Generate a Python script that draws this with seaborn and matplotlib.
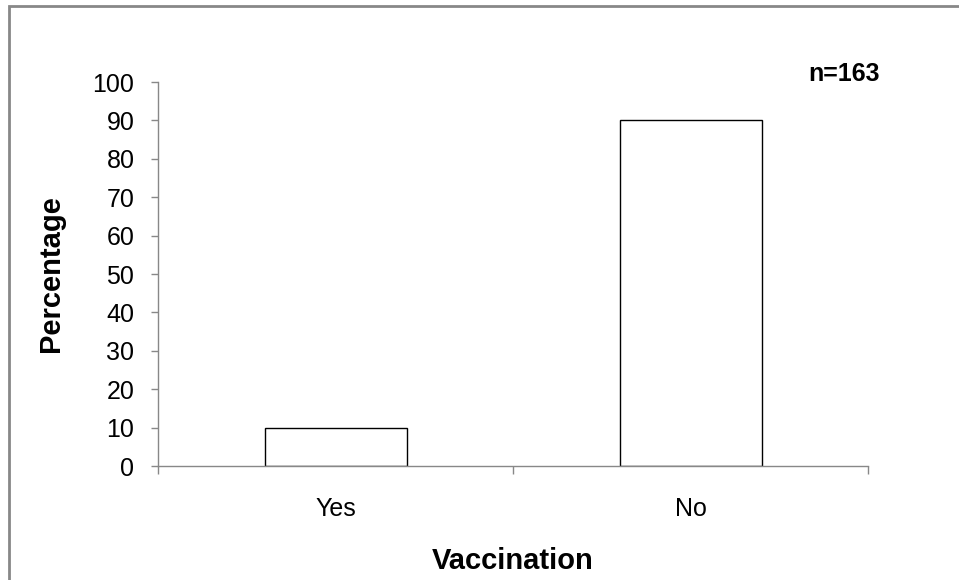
import pandas as pd
import numpy as np
import matplotlib.pyplot as plt
import seaborn as sns
from matplotlib.patches import Rectangle

# Values
categories = ["Yes", "No"]
percentages = [10, 90]
n_label = "n=163"

df = pd.DataFrame({"Vaccination": categories, "Percentage": percentages})

sns.set_style("white", {"xtick.bottom": True, "ytick.left": True,
                        "text.color": "black", "xtick.color": "black",
                        "ytick.color": "black", "axes.labelcolor": "black"})
plt.rcParams["font.family"] = ["Liberation Sans", "DejaVu Sans"]

fig = plt.figure(figsize=(9.59, 5.8), dpi=100)
ax = fig.add_axes([158 / 959, 1 - 466 / 580, 710 / 959, 384 / 580])

sns.barplot(data=df, x="Vaccination", y="Percentage", ax=ax, width=0.4,
            color="white", edgecolor="black", linewidth=1.0)

ax.set_xlim(-0.5, 1.5)
ax.set_ylim(0, 100)
ax.set_yticks(np.arange(0, 101, 10))

# category boundary ticks like the original spreadsheet chart
ax.set_xticks([-0.5, 0.5, 1.5], minor=True)
ax.tick_params(axis="x", which="major", bottom=False, length=0, labelsize=18,
               labelcolor="black", pad=22)
ax.tick_params(axis="x", which="minor", bottom=True, length=5.5, width=1,
               color="#888888", direction="out")
ax.tick_params(axis="y", left=True, length=5, width=1, color="#888888",
               direction="out", labelsize=18, labelcolor="black", pad=12)

for side in ["top", "right"]:
    ax.spines[side].set_visible(False)
for side in ["left", "bottom"]:
    ax.spines[side].set_color("#888888")
    ax.spines[side].set_linewidth(1)

ax.set_xlabel("Vaccination", fontsize=21, fontweight="bold", labelpad=19, color="black")
ax.set_ylabel("Percentage", fontsize=21, fontweight="bold", labelpad=20, color="black")

fig.text(844 / 959, 1 - 74 / 580, n_label, fontsize=18, fontweight="bold",
         ha="center", va="center", color="black")

# outer chart border
fig.patches.append(Rectangle((9 / 959, -0.05), 1.0, 1 - 6 / 580 + 0.05,
                             transform=fig.transFigure, fill=False,
                             edgecolor="#888888", linewidth=2))

fig.savefig("out.png", dpi=100)
